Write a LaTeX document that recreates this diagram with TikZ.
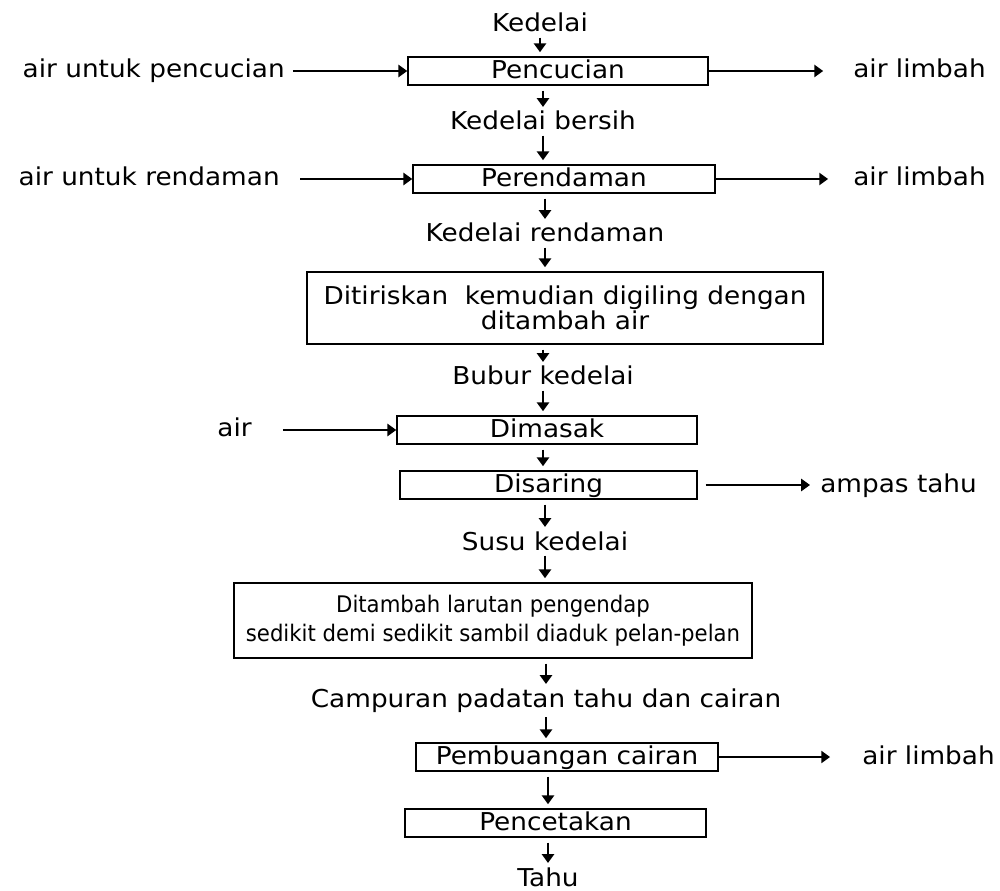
\documentclass[tikz,border=0pt]{standalone}
\usepackage{fontspec}
\setmainfont{DejaVu Sans}[FakeStretch=1.07]
\usetikzlibrary{arrows.meta}
\begin{document}
\begin{tikzpicture}[x=0.02cm,y=-0.02cm,font=\fontsize{14}{13.1}\selectfont,
  kotak/.style={draw,line width=0.9pt,inner sep=0pt},
  langkah/.style={kotak,text height=11pt,text depth=3pt},
  teks/.style={inner sep=0pt,anchor=base},
  alir/.style={line width=0.9pt,-{Triangle[length=5pt,width=7pt]}},
  turun/.style={alir,shorten <=2.8pt,shorten >=2.3pt}]
\useasboundingbox (0,0) rectangle (1000,891);

\node (kedelai) [teks] at (540,32) {Kedelai};
\node (pencucian) [langkah,minimum width=6cm,minimum height=0.56cm] at (558,71) {Pencucian};
\node (masuk1) [teks,anchor=base east] at (285,78) {air untuk pencucian};
\node (limbah1) [teks,anchor=base west] at (853,78) {air limbah};
\node (bersih) [teks] at (543,130) {Kedelai bersih};
\node (perendaman) [langkah,minimum width=6.04cm,minimum height=0.56cm] at (564,179) {Perendaman};
\node (masuk2) [teks,anchor=base east] at (280,186) {air untuk rendaman};
\node (limbah2) [teks,anchor=base west] at (853,186) {air limbah};
\node (rendaman) [teks] at (545,242) {Kedelai rendaman};
\node (giling) [kotak,align=center,minimum width=10.32cm,minimum height=1.44cm] at (565,308) {Ditiriskan\ \ kemudian digiling dengan\\ditambah air};
\node (bubur) [teks] at (543,385) {Bubur kedelai};
\node (masak) [langkah,minimum width=6cm,minimum height=0.56cm] at (547,430) {Dimasak};
\node (air) [teks,anchor=base east] at (252,437) {air};
\node (saring) [langkah,minimum width=5.94cm,minimum height=0.56cm] at (548.5,485) {Disaring};
\node (ampas) [teks,anchor=base west] at (820,492) {ampas tahu};
\node (susu) [teks] at (545,550) {Susu kedelai};
\node (endap) [kotak,align=center,minimum width=10.36cm,minimum height=1.5cm,font=\fontsize{13}{16.5}\selectfont\addfontfeature{FakeStretch=0.93}] at (493,620.5) {Ditambah larutan pengendap\\sedikit demi sedikit sambil diaduk pelan-pelan};
\node (campuran) [teks] at (546,707) {Campuran padatan tahu dan cairan};
\node (buang) [langkah,minimum width=6.04cm,minimum height=0.56cm] at (567,757) {Pembuangan cairan};
\node (limbah3) [teks,anchor=base west] at (862,764) {air limbah};
\node (cetak) [langkah,minimum width=6.02cm,minimum height=0.56cm] at (555.5,823) {Pencetakan};
\node (tahu) [teks] at (548,886) {Tahu};

\draw [turun] (kedelai) -- (kedelai |- pencucian.north);
\draw [turun] (pencucian.south -| bersih) -- (bersih);
\draw [turun] (bersih) -- (bersih |- perendaman.north);
\draw [turun] (perendaman.south -| rendaman) -- (rendaman);
\draw [turun] (rendaman) -- (rendaman |- giling.north);
\draw [turun] (giling.south -| bubur) -- (bubur);
\draw [turun] (bubur) -- (bubur |- masak.north);
\draw [turun] (masak.south -| bubur) -- (saring.north -| bubur);
\draw [turun] (saring.south -| susu) -- (susu);
\draw [turun] (susu) -- (susu |- endap.north);
\draw [turun] (endap.south -| campuran) -- (campuran);
\draw [turun] (campuran) -- (campuran |- buang.north);
\draw [turun] (buang.south -| tahu) -- (cetak.north -| tahu);
\draw [turun] (cetak.south -| tahu) -- (tahu);

\draw [alir,shorten <=4.5pt] (masuk1.east |- pencucian.west) -- (pencucian.west);
\draw [alir,shorten <=11.4pt] (masuk2.east |- perendaman.west) -- (perendaman.west);
\draw [alir,shorten <=17.5pt] (air.east |- masak.west) -- (masak.west);
\draw [alir,shorten >=17pt] (pencucian.east) -- (limbah1.west |- pencucian.east);
\draw [alir,shorten >=14.2pt] (perendaman.east) -- (limbah2.west |- perendaman.east);
\draw [alir,shorten <=4.5pt,shorten >=5.7pt] (saring.east) -- (ampas.west |- saring.east);
\draw [alir,shorten >=18.2pt] (buang.east) -- (limbah3.west |- buang.east);
\end{tikzpicture}
\end{document}
